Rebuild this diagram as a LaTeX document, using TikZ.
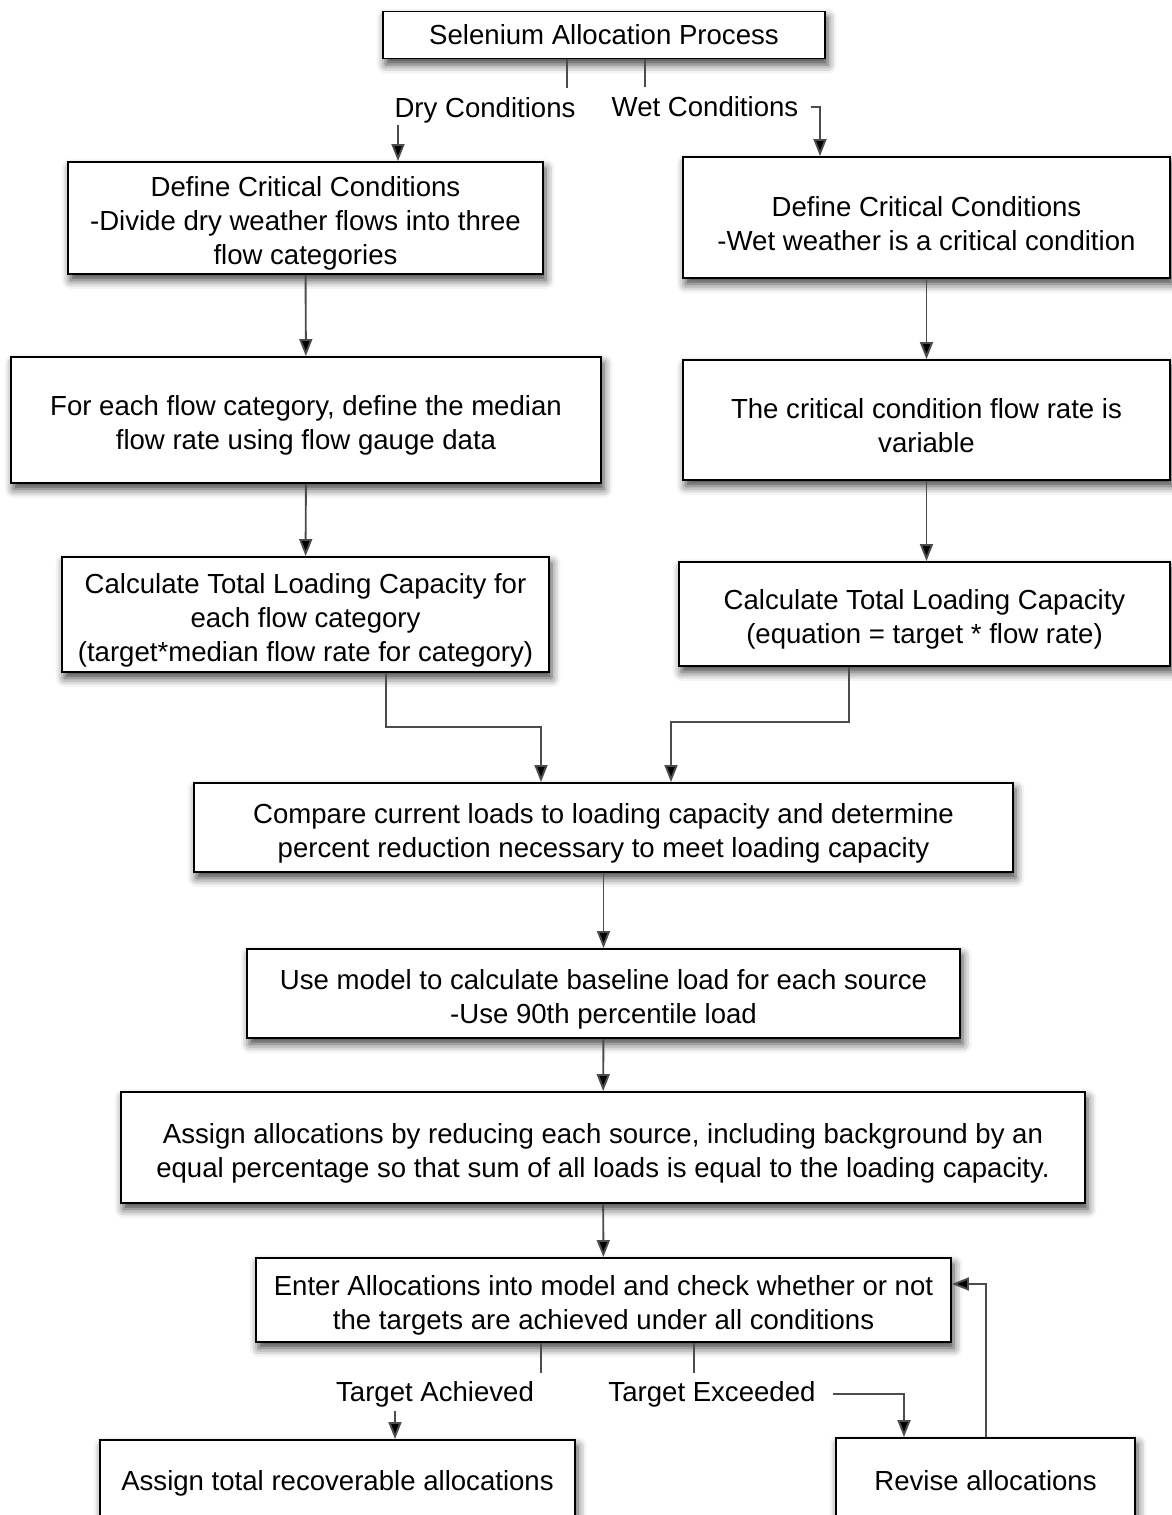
\documentclass[tikz,border=0pt]{standalone}
\usepackage{fontspec}
\setmainfont{Liberation Sans}
\usetikzlibrary{arrows.meta, positioning, shadows.blur}

% taller first line, pushes multi-line text a bit lower in its box
\newcommand{\lift}{\rule{0pt}{18pt}}

\begin{document}
\begin{tikzpicture}[x=0.02cm, y=-0.02cm,
        font=\fontsize{15.7}{19.35}\selectfont,
        box/.style={draw, line width=1.1pt, fill=white, align=center, inner sep=0pt,
            blur shadow={shadow xshift=1.5pt, shadow yshift=-3.5pt,
                shadow blur radius=5pt, shadow opacity=75}},
        size/.style 2 args={minimum width=#1*0.02cm, minimum height=#2*0.02cm},
        cond/.style={inner sep=1pt},
        link/.style={line width=1.1pt, draw=black!70},
        arr/.style={link, -{Triangle[length=0.34cm, width=0.26cm, fill=black]}}]
    \useasboundingbox (0,0) rectangle (1171,1515);

    % top of the chart
    \node[box, size={442}{47}] (title) at (604,35) {Selenium Allocation Process};
    \node[cond] (dry) at (485,110) {Dry Conditions};
    \node[cond] (wet) at (705,107) {Wet Conditions};

    % dry weather column
    \node[box, size={475}{112}] (dryDef) at (305.5,218)
        {\lift Define Critical Conditions\\-Divide dry weather flows into three\\flow categories};
    \node[box, size={590}{126}] (dryRate) at (306,420)
        {\lift For each flow category, define the median\\flow rate using flow gauge data};
    \node[box, size={487}{115}] (dryCap) at (305.5,614.5)
        {\lift Calculate Total Loading Capacity for\\each flow category\\(target*median flow rate for category)};

    % wet weather column
    \node[box, size={487}{121}] (wetDef) at (926.5,217.5)
        {\lift Define Critical Conditions\\-Wet weather is a critical condition};
    \node[box, size={487}{120}] (wetRate) at (926.5,420)
        {\lift The critical condition flow rate is\\variable};
    \node[box, size={491}{104}] (wetCap) at (924.5,614)
        {\lift Calculate Total Loading Capacity\\(equation = target * flow rate)};

    % common steps
    \node[box, size={819}{89}] (compare) at (603.5,827.5)
        {\lift Compare current loads to loading capacity and determine\\percent reduction necessary to meet loading capacity};
    \node[box, size={713}{89}] (baseline) at (603.5,993.5)
        {\lift Use model to calculate baseline load for each source\\-Use 90th percentile load};
    \node[box, size={964}{111}] (assign) at (603,1147.5)
        {\lift Assign allocations by reducing each source, including background by an\\equal percentage so that sum of all loads is equal to the loading capacity.};
    \node[box, size={695}{84}] (check) at (603.5,1300)
        {\lift Enter Allocations into model and check whether or not\\the targets are achieved under all conditions};

    \node[cond] (achieved) at (435,1394) {Target Achieved};
    \node[cond] (exceeded) at (712,1394) {Target Exceeded};
    \node[box, size={475}{86}] (total) at (337.5,1483) {Assign total recoverable allocations};
    \node[box, size={299}{86}] (revise) at (985.5,1481) {Revise allocations};

    % turning points
    \coordinate (dryTap) at (567,88);
    \coordinate (wetTap) at (645,87);
    \coordinate (dryFoot) at (398,125);
    \coordinate (wetTurn) at (820,108);
    \coordinate (dryJoin) at (386,727);
    \coordinate (dryDrop) at (541,727);
    \coordinate (wetJoin) at (849,722);
    \coordinate (wetDrop) at (671,722);
    \coordinate (achTap) at (541,1373);
    \coordinate (excTap) at (694,1373);
    \coordinate (achFoot) at (395,1411);
    \coordinate (excTurn) at (904,1390);
    \coordinate (loop) at (986,1284);

    % connectors
    \draw[link] (title.south -| dryTap) -- (dryTap);
    \draw[link] (title.south -| wetTap) -- (wetTap);
    \draw[arr] (dryFoot) -- (dryFoot |- dryDef.north);
    \draw[arr] ([xshift=6pt]wet.east) -| (wetTurn |- wetDef.north);

    \draw[arr] (dryDef) -- (dryRate);
    \draw[arr] (dryRate) -- (dryCap);
    \draw[arr] (wetDef) -- (wetDef |- wetRate.north);
    \draw[arr] (wetRate) -- (wetRate |- wetCap.north);

    \draw[arr] (dryCap.south -| dryJoin) -- (dryJoin) -- (dryDrop) -- (dryDrop |- compare.north);
    \draw[arr] (wetCap.south -| wetJoin) -- (wetJoin) -- (wetDrop) -- (wetDrop |- compare.north);

    \draw[arr] (compare) -- (baseline);
    \draw[arr] (baseline) -- (assign);
    \draw[arr] (assign) -- (check);

    \draw[link] (check.south -| achTap) -- (achTap);
    \draw[link] (check.south -| excTap) -- (excTap);
    \draw[arr] (achFoot) -- (achFoot |- total.north);
    \draw[arr] ([xshift=9pt]exceeded.east) -| (excTurn |- revise.north);
    \draw[arr] (revise.north -| loop) -- (loop) -- (loop -| check.east);
\end{tikzpicture}
\end{document}
